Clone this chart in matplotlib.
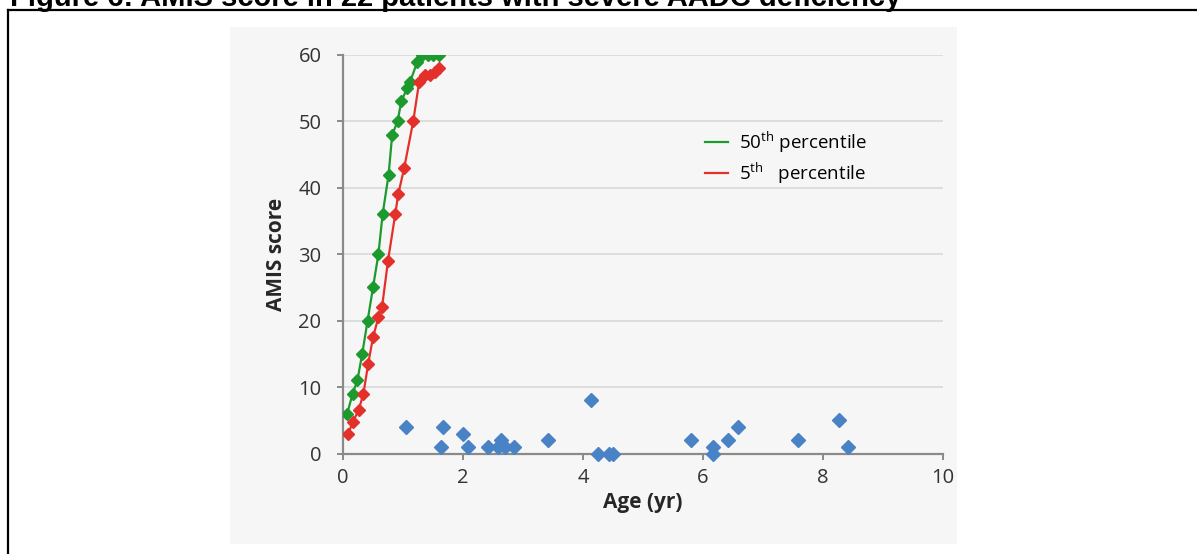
import numpy as np
import matplotlib.pyplot as plt
from matplotlib.patches import Rectangle
from matplotlib.lines import Line2D

plt.rcParams['font.family'] = ['Open Sans', 'DejaVu Sans']
plt.rcParams['mathtext.default'] = 'regular'

# 50th percentile curve
age_p50 = [0.07, 0.16, 0.24, 0.32, 0.41, 0.50, 0.59, 0.66, 0.76, 0.82,
           0.91, 0.97, 1.07, 1.12, 1.24, 1.32, 1.41, 1.50, 1.60]
amis_p50 = [6, 9, 11, 15, 20, 25, 30, 36, 42, 48,
            50, 53, 55, 56, 59, 60, 60, 60, 60]

# 5th percentile curve
age_p5 = [0.09, 0.16, 0.26, 0.34, 0.42, 0.50, 0.59, 0.65, 0.75, 0.87,
          0.92, 1.02, 1.17, 1.27, 1.37, 1.45, 1.53, 1.60]
amis_p5 = [3, 4.7, 6.5, 9, 13.5, 17.5, 20.5, 22, 29, 36,
           39, 43, 50, 56, 57, 57, 57.5, 58]

# patients with severe AADC deficiency
age_pt = [1.05, 1.63, 1.66, 2.00, 2.08, 2.42, 2.58, 2.63, 2.70, 2.85,
          3.42, 4.14, 4.25, 4.43, 4.50, 5.80, 6.17, 6.17, 6.41, 6.58,
          7.59, 8.26, 8.42]
amis_pt = [4, 1, 4, 3, 1, 1, 1, 2, 1, 1,
           2, 8, 0, 0, 0, 2, 1, 0, 2, 4,
           2, 5, 1]

xticks = [0, 2, 4, 6, 8, 10]
yticks = [0, 10, 20, 30, 40, 50, 60]

green = '#1c9a2e'
red = '#e3302b'
blue = '#4a82c6'
axcol = '#8a8a8a'

W, H = 1197, 554
fig = plt.figure(figsize=(W / 100, H / 100), dpi=100)

# frame of the figure box
fig.add_artist(Line2D([7.5 / W, 7.5 / W], [0, 1 - 9.5 / H], color='black', lw=1.6))
fig.add_artist(Line2D([7.5 / W, 1], [1 - 9.5 / H, 1 - 9.5 / H], color='black', lw=1.6))
fig.text(10 / W, 1 - 5.5 / H, 'Figure 6: AMIS score in 22 patients with severe AADC deficiency',
         family='Liberation Sans', weight='bold', fontsize=21, va='baseline', ha='left')

# light grey panel of the pasted chart, behind the axes
fig.add_artist(Rectangle((230 / W, 1 - 544 / H), (957 - 230) / W, (544 - 27) / H,
                         transform=fig.transFigure, facecolor='#f6f6f6', edgecolor='none',
                         zorder=-10))

ax = fig.add_axes([343 / W, 1 - 453.5 / H, (943 - 343) / W, (453.5 - 55) / H])
ax.set_facecolor('none')

ax.plot(age_p50, amis_p50, color=green, lw=1.6, marker='D', ms=6.5, mec=green, zorder=3)
ax.plot(age_p5, amis_p5, color=red, lw=1.6, marker='D', ms=6.5, mec=red, zorder=3)
ax.plot(age_pt, amis_pt, ls='none', marker='D', ms=7, color=blue, mec=blue, zorder=4,
        clip_on=False)

ax.set_xlim(0, 10)
ax.set_ylim(0, 60)
ax.set_xticks(xticks)
ax.set_yticks(yticks)
ax.grid(axis='y', color='#d8d8d8', lw=1.2)
ax.set_axisbelow(True)

for s in ['top', 'right']:
    ax.spines[s].set_visible(False)
for s in ['left', 'bottom']:
    ax.spines[s].set_color(axcol)
    ax.spines[s].set_linewidth(1.6)
ax.tick_params(axis='both', direction='out', length=4.5, width=1.4, color=axcol,
               labelsize=14.5, labelcolor='#333333')
ax.tick_params(axis='y', pad=11)
ax.tick_params(axis='x', pad=6)

ax.set_xlabel('Age (yr)', fontsize=15, weight='bold', color='#262626', labelpad=3)
ax.set_ylabel('AMIS score', fontsize=15, weight='bold', color='#262626', labelpad=8)

handles = [Line2D([], [], color=green, lw=1.6), Line2D([], [], color=red, lw=1.6)]
ax.legend(handles, ['50$^{th}$ percentile', '5$^{th}$   percentile'],
          loc='upper left', bbox_to_anchor=((705 - 343) / 600, (453.5 - 130) / 398.5),
          frameon=False, fontsize=13.5, handlelength=1.25, handletextpad=0.55,
          borderpad=0, borderaxespad=0, labelspacing=0.3)

fig.savefig('out.png', dpi=100)
